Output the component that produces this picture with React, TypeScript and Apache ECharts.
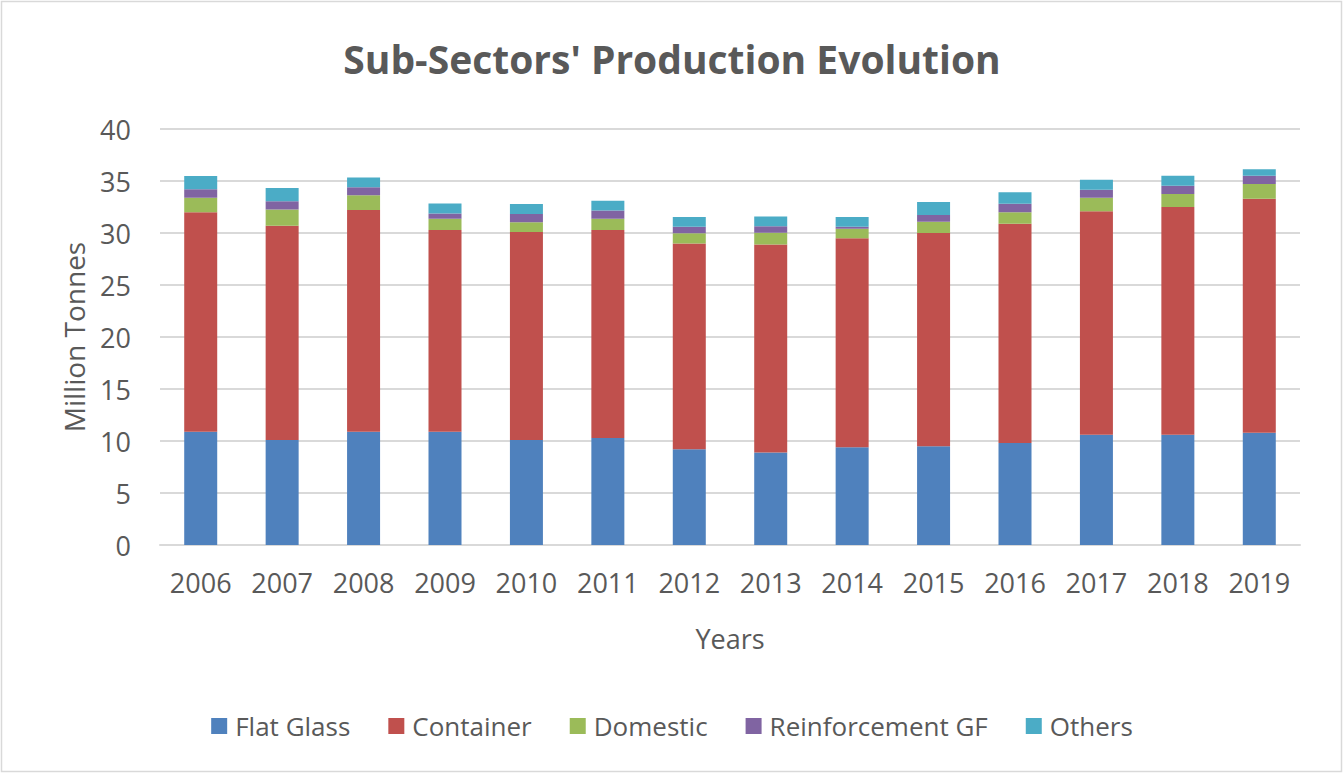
import React, { useEffect, useRef } from "react";
import * as echarts from "echarts";

const years = ["2006","2007","2008","2009","2010","2011","2012","2013","2014","2015","2016","2017","2018","2019"];
const flatGlass = [10.9, 10.1, 10.9, 10.9, 10.1, 10.3, 9.2, 8.9, 9.4, 9.5, 9.8, 10.6, 10.6, 10.8];
const container = [21.1, 20.6, 21.3, 19.4, 20.0, 20.0, 19.8, 20.0, 20.1, 20.5, 21.1, 21.5, 21.9, 22.5];
const domestic = [1.4, 1.56, 1.42, 1.06, 0.93, 1.06, 0.97, 1.12, 0.92, 1.09, 1.09, 1.28, 1.25, 1.41];
const reinforcementGF = [0.8, 0.8, 0.79, 0.51, 0.8, 0.8, 0.63, 0.63, 0.19, 0.64, 0.83, 0.77, 0.8, 0.8];
const others = [1.28, 1.26, 0.93, 0.96, 0.96, 0.95, 0.94, 0.94, 0.94, 1.25, 1.09, 0.96, 0.96, 0.61];

const seriesDefs = [
  { name: "Flat Glass", data: flatGlass, color: "#4F81BD" },
  { name: "Container", data: container, color: "#C0504D" },
  { name: "Domestic", data: domestic, color: "#9BBB59" },
  { name: "Reinforcement GF", data: reinforcementGF, color: "#8064A2" },
  { name: "Others", data: others, color: "#4BACC6" },
];

const FONT = "'Open Sans', Lato, sans-serif";
const GRAY = "#595959";

export default function App() {
  const ref = useRef<HTMLDivElement>(null);
  useEffect(() => {
    if (!ref.current) return;
    const chart = echarts.init(ref.current, null, { renderer: "svg" });
    chart.setOption({
      animation: false,
      backgroundColor: "#ffffff",
      title: {
        text: "Sub-Sectors' Production Evolution",
        left: "center",
        top: 34,
        textStyle: { fontFamily: FONT, fontWeight: "bold", fontSize: 39, color: GRAY },
      },
      graphic: [
        {
          type: "rect",
          shape: { x: 1.5, y: 1.5, width: 1340, height: 770 },
          style: { fill: "none", stroke: "#D9D9D9", lineWidth: 1.5 },
          silent: true,
        },
      ],
      grid: { left: 160, right: 44, top: 129, bottom: 229 },
      legend: {
        bottom: 30,
        left: "center",
        itemWidth: 16,
        itemHeight: 16,
        itemGap: 38,
        icon: "rect",
        textStyle: { fontFamily: FONT, fontSize: 26, color: GRAY, padding: [0, 0, 0, 3] },
        data: seriesDefs.map((s) => s.name),
      },
      xAxis: {
        type: "category",
        data: years,
        name: "Years",
        nameLocation: "middle",
        nameGap: 80,
        nameTextStyle: { fontFamily: FONT, fontSize: 27, color: GRAY },
        axisLine: { show: true, lineStyle: { color: "#D9D9D9", width: 2 } },
        axisTick: { show: false },
        axisLabel: { fontFamily: FONT, fontSize: 27, color: GRAY, margin: 24 },
      },
      yAxis: {
        type: "value",
        min: 0,
        max: 40,
        interval: 5,
        name: "Million Tonnes",
        nameLocation: "middle",
        nameGap: 72,
        nameTextStyle: { fontFamily: FONT, fontSize: 28, color: GRAY },
        axisLine: { show: false },
        axisTick: { show: false },
        axisLabel: { fontFamily: FONT, fontSize: 27, color: GRAY, margin: 29 },
        splitLine: { lineStyle: { color: "#D9D9D9", width: 2 } },
      },
      series: seriesDefs.map((s) => ({
        name: s.name,
        type: "bar",
        stack: "total",
        barWidth: 33,
        data: s.data,
        itemStyle: { color: s.color },
        emphasis: { disabled: true },
      })),
    });
    return () => chart.dispose();
  }, []);
  return (
    <div
      ref={ref}
      style={{ position: "fixed", left: 0, top: 0, width: 1344, height: 774 }}
    />
  );
}
